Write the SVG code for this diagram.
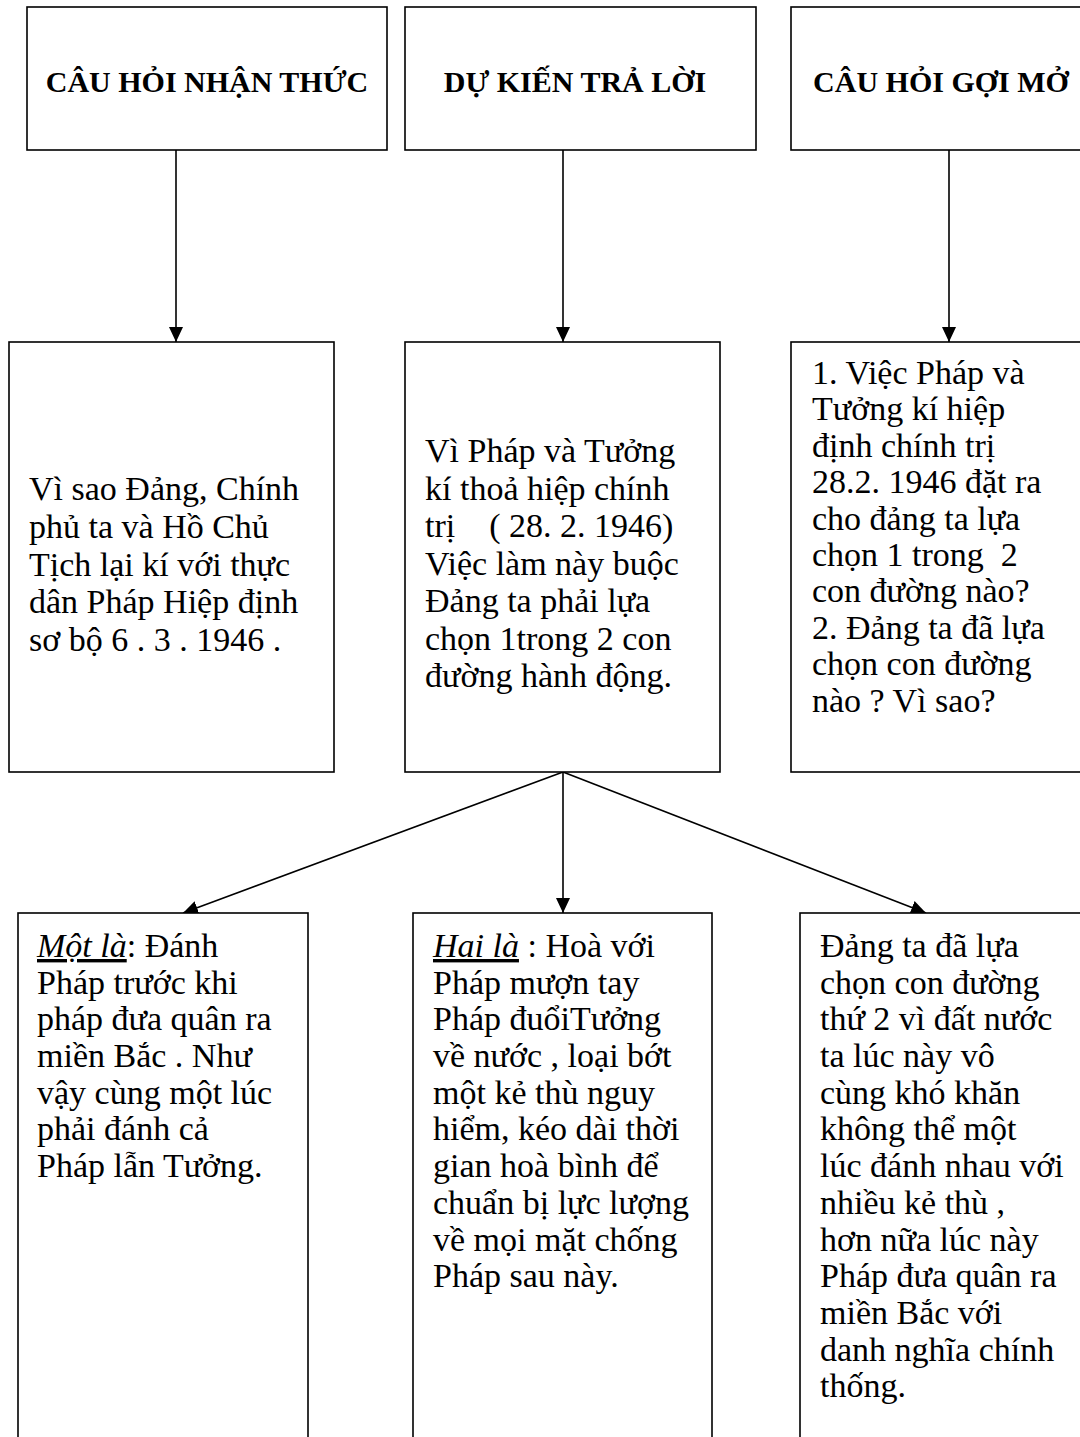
<svg xmlns="http://www.w3.org/2000/svg" width="1080" height="1437" viewBox="0 0 1080 1437">
<style>
.box{fill:#fff;stroke:#000;stroke-width:1.6}
.hd{font-family:"Liberation Serif","Times New Roman",serif;font-weight:bold;font-size:30px;fill:#000;text-anchor:middle}
.tx{font-family:"Liberation Serif","Times New Roman",serif;font-size:34px;fill:#000}
.it{font-style:italic;text-decoration:underline}
.cn{stroke:#000;stroke-width:1.6;fill:none;marker-end:url(#ah)}
</style>
<defs>
<marker id="ah" markerUnits="userSpaceOnUse" markerWidth="16" markerHeight="16" viewBox="0 0 16 16" refX="15" refY="8" orient="auto">
<path d="M0,1 L15,8 L0,15 Z" fill="#000"/>
</marker>
</defs>
<rect width="1080" height="1437" fill="#fff"/>
<g id="connectors">
<line class="cn" x1="176" y1="150" x2="176" y2="342"/>
<line class="cn" x1="563" y1="150" x2="563" y2="342"/>
<line class="cn" x1="949" y1="150" x2="949" y2="342"/>
<line class="cn" x1="563" y1="772" x2="183" y2="913"/>
<line class="cn" x1="563" y1="772" x2="563" y2="913"/>
<line class="cn" x1="563" y1="772" x2="926" y2="913"/>
</g>
<g id="h1">
<rect class="box" x="27" y="7" width="360" height="143"/>
<text class="hd" x="207" y="92">CÂU HỎI NHẬN THỨC</text>
</g>
<g id="h2">
<rect class="box" x="405" y="7" width="351" height="143"/>
<text class="hd" x="575" y="92">DỰ KIẾN TRẢ LỜI</text>
</g>
<g id="h3">
<rect class="box" x="791" y="7" width="310" height="143"/>
<text class="hd" x="941" y="92">CÂU HỎI GỢI MỞ</text>
</g>
<g id="m1">
<rect class="box" x="9" y="342" width="325" height="430"/>
<text class="tx" xml:space="preserve"><tspan x="29" y="500">Vì sao Đảng, Chính</tspan><tspan x="29" y="538">phủ ta và Hồ Chủ</tspan><tspan x="29" y="576">Tịch lại kí với thực</tspan><tspan x="29" y="613">dân Pháp Hiệp định</tspan><tspan x="29" y="651">sơ bộ 6 . 3 . 1946 .</tspan></text>
</g>
<g id="m2">
<rect class="box" x="405" y="342" width="315" height="430"/>
<text class="tx" xml:space="preserve"><tspan x="425" y="462">Vì Pháp và Tưởng</tspan><tspan x="425" y="500">kí thoả hiệp chính</tspan><tspan x="425" y="537">trị    ( 28. 2. 1946)</tspan><tspan x="425" y="575">Việc làm này buộc</tspan><tspan x="425" y="612">Đảng ta phải lựa</tspan><tspan x="425" y="650">chọn 1trong 2 con</tspan><tspan x="425" y="687">đường hành động.</tspan></text>
</g>
<g id="m3">
<rect class="box" x="791" y="342" width="310" height="430"/>
<text class="tx" xml:space="preserve"><tspan x="812" y="384">1. Việc Pháp và</tspan><tspan x="812" y="420">Tưởng kí hiệp</tspan><tspan x="812" y="457">định chính trị</tspan><tspan x="812" y="493">28.2. 1946 đặt ra</tspan><tspan x="812" y="530">cho đảng ta lựa</tspan><tspan x="812" y="566">chọn 1 trong  2</tspan><tspan x="812" y="602">con đường nào?</tspan><tspan x="812" y="639">2. Đảng ta đã lựa</tspan><tspan x="812" y="675">chọn con đường</tspan><tspan x="812" y="712">nào ? Vì sao?</tspan></text>
</g>
<g id="b1">
<rect class="box" x="18" y="913" width="290" height="540"/>
<text class="tx" xml:space="preserve"><tspan x="37" y="957"><tspan class="it">Một là</tspan>: Đánh</tspan><tspan x="37" y="994">Pháp trước khi</tspan><tspan x="37" y="1030">pháp đưa quân ra</tspan><tspan x="37" y="1067">miền Bắc . Như</tspan><tspan x="37" y="1104">vậy cùng một lúc</tspan><tspan x="37" y="1140">phải đánh cả</tspan><tspan x="37" y="1177">Pháp lẫn Tưởng.</tspan></text>
</g>
<g id="b2">
<rect class="box" x="413" y="913" width="299" height="540"/>
<text class="tx" xml:space="preserve"><tspan x="433" y="957"><tspan class="it">Hai là</tspan> : Hoà với</tspan><tspan x="433" y="994">Pháp mượn tay</tspan><tspan x="433" y="1030">Pháp đuổiTưởng</tspan><tspan x="433" y="1067">về nước , loại bớt</tspan><tspan x="433" y="1104">một kẻ thù nguy</tspan><tspan x="433" y="1140">hiểm, kéo dài thời</tspan><tspan x="433" y="1177">gian hoà bình để</tspan><tspan x="433" y="1214">chuẩn bị lực lượng</tspan><tspan x="433" y="1251">về mọi mặt chống</tspan><tspan x="433" y="1287">Pháp sau này.</tspan></text>
</g>
<g id="b3">
<rect class="box" x="800" y="913" width="300" height="540"/>
<text class="tx" xml:space="preserve"><tspan x="820" y="957">Đảng ta đã lựa</tspan><tspan x="820" y="994">chọn con đường</tspan><tspan x="820" y="1030">thứ 2 vì đất nước</tspan><tspan x="820" y="1067">ta lúc này vô</tspan><tspan x="820" y="1104">cùng khó khăn</tspan><tspan x="820" y="1140">không thể một</tspan><tspan x="820" y="1177">lúc đánh nhau với</tspan><tspan x="820" y="1214">nhiều kẻ thù ,</tspan><tspan x="820" y="1251">hơn nữa lúc này</tspan><tspan x="820" y="1287">Pháp đưa quân ra</tspan><tspan x="820" y="1324">miền Bắc với</tspan><tspan x="820" y="1361">danh nghĩa chính</tspan><tspan x="820" y="1397">thống.</tspan></text>
</g>
</svg>
